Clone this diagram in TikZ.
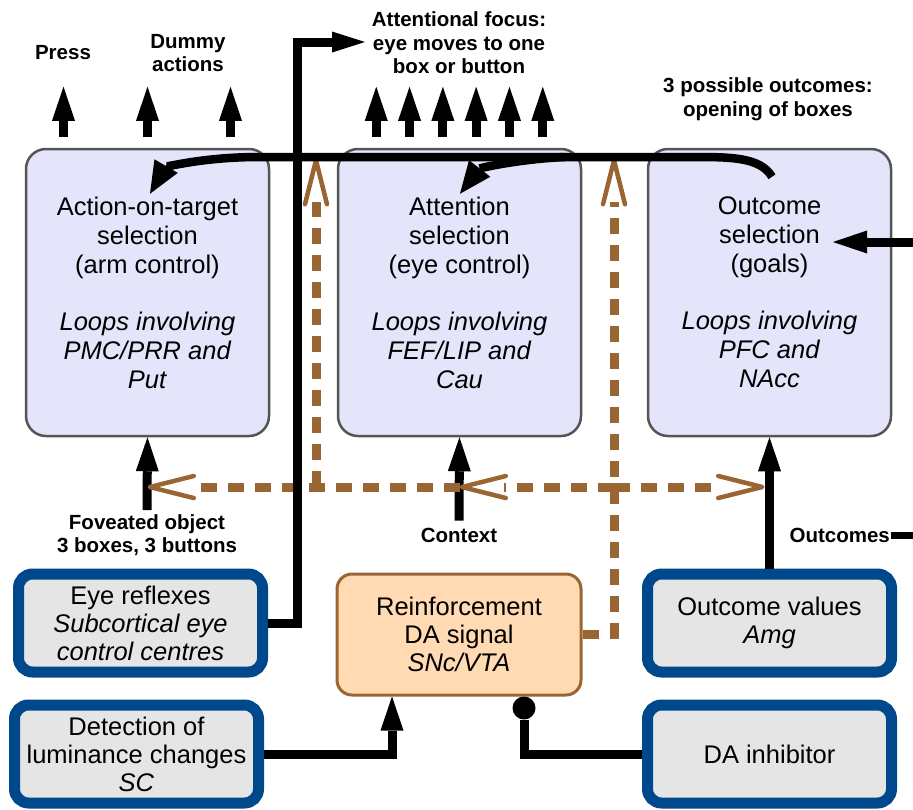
\documentclass[tikz,border=0pt]{standalone}
\usepackage{fontspec}
\setmainfont{Liberation Sans}
\usetikzlibrary{arrows.meta,positioning,calc}
\definecolor{lav}{RGB}{228,228,250}
\definecolor{frm}{RGB}{85,85,85}
\definecolor{brn}{RGB}{153,102,51}
\definecolor{peach}{RGB}{255,218,178}
\definecolor{navy}{RGB}{0,72,140}
\definecolor{lgray}{RGB}{229,229,229}
\tikzset{
  loopbox/.style={rectangle,rounded corners=20pt,draw=frm,line width=2.5pt,fill=lav,
    minimum width=243pt,minimum height=287pt,inner sep=0pt,align=center,
    font=\fontsize{25.5}{29}\selectfont},
  inbox/.style={rectangle,rounded corners=14pt,draw=navy,line width=11pt,fill=lgray,
    minimum width=244pt,minimum height=98pt,inner sep=0pt,align=center,
    font=\fontsize{25.5}{28}\selectfont},
  dabox/.style={rectangle,rounded corners=15pt,draw=brn,line width=3pt,fill=peach,
    minimum width=244pt,minimum height=121pt,inner sep=0pt,align=center,
    font=\fontsize{25.5}{28}\selectfont},
  lbl/.style={font=\bfseries\fontsize{20.5}{23.5}\selectfont,align=center,inner sep=1pt},
  fat/.style={-{Triangle[length=34pt,width=23pt,line width=0pt]},line width=9pt},
  curvarrow/.style={-{Triangle[length=32pt,width=27pt,line width=0pt]},line width=8.5pt},
  % open V head, the dashes stop behind it
  mod/.style={draw=brn,line width=9pt,dash pattern=on 16pt off 11pt,shorten >=44pt,
    postaction={draw=brn,line width=4.5pt,dash pattern=on 0pt off 15000pt,shorten >=0pt,
      -{Straight Barb[length=44pt,width=22pt,line width=4.5pt,round]}}},
}
\begin{document}
\begin{tikzpicture}[x=1pt,y=-1pt]
\useasboundingbox (0,0) rectangle (913,809);

% --- loop boxes ---
\node[loopbox] (actsel) at (147.5,292.5) {Action-on-target\\selection\\(arm control)\\[28pt]\textit{Loops involving}\\\textit{PMC/PRR and}\\\textit{Put}};
\node[loopbox] (attsel) at (459.5,292.5) {Attention\\selection\\(eye control)\\[28pt]\textit{Loops involving}\\\textit{FEF/LIP and}\\\textit{Cau}};
\node[loopbox] (outsel) at (769.5,292.5) {Outcome\\selection\\(goals)\\[28pt]\textit{Loops involving}\\\textit{PFC and}\\\textit{NAcc}};

% --- input boxes ---
\node[inbox] (eye) at (140.5,623) {Eye reflexes\\\textit{Subcortical eye}\\\textit{control centres}};
\node[inbox] (det) at (136.5,754) {Detection of\\luminance changes\\\textit{SC}};
\node[dabox] (da) at (459,634.5) {Reinforcement\\DA signal\\\textit{SNc/VTA}};
\node[inbox] (outv) at (769.5,623) {Outcome values\\\textit{Amg}};
\node[inbox] (dainh) at (769.5,754) {DA inhibitor};

% --- labels ---
\node[lbl] (press) at (63,53) {Press};
\node[lbl] (dummy) at (188,53) {Dummy\\actions};
\node[lbl] (focus) at (459,43) {Attentional focus:\\eye moves to one\\box or button};
\node[lbl] (poss) at (768,99) {3 possible outcomes:\\opening of boxes};
\node[lbl] (fov) at (147,535) {Foveated object\\3 boxes, 3 buttons};
\node[lbl] (ctx) at (459,535) {Context};
\node[lbl,anchor=east] (outc) at (891,535) {Outcomes};

\coordinate (jr) at (614,487);
\coordinate (jl) at (316,487);
\coordinate (jtopr) at (614,158);
\coordinate (jtopl) at (316,158);
\coordinate (rin) at (913,242);
\coordinate (rout) at (913,535);
\coordinate (focusgo) at (365,42);

% output arrows
\foreach \dx in {-84,0,83}
  \draw[fat] ([xshift=\dx pt]actsel.north) ++(0,-11) -- ++(0,-50);
\foreach \i in {0,...,5}
  \draw[fat] ([xshift={-83.25pt+33.3pt*\i}]attsel.north) ++(0,-11) -- ++(0,-50);

% input arrows
\draw[fat] ([yshift=3pt]fov.north) -- (actsel.south);
\draw[fat] ([yshift=6pt]ctx.north) -- (attsel.south);
\draw[fat] (outv.north) -- (outsel.south);
\draw[fat] (rin) -- +(-80,0);
\draw[line width=7pt] (outc.east) -- (rout);
\draw[fat] (det.east) -| ([xshift=-67pt]da.south);
\draw[line width=9pt,-{Circle[length=23pt,line width=0pt]}] (dainh.west) -| ([xshift=65pt]da.south);

% --- DA modulation (dashed) ---
\draw[mod] (da.east) -| (jtopr);
\draw[mod] (jl) -- (jtopl);
\draw[mod] (jr) -- (attsel.south |- jr);
\draw[mod] (attsel.south |- jr) -- (actsel.south |- jr);
\draw[mod] (jr) -- ($(outsel.south |- jr)+(-5,0)$);

% eye reflexes to focus
\draw[fat,-{Triangle[length=33pt,width=21pt,line width=0pt]}] (eye.east) -- ++(29,0) |- (focusgo);

% goals feeding back
\draw[curvarrow] ([xshift=2.5pt,yshift=-29pt]outsel.north) .. controls +(-12,-20) and +(40,0) .. (690,157)
  -- (260,157) .. controls (200,157) and (165,168) .. ([xshift=2.5pt,yshift=-46pt]actsel.north);
\draw[curvarrow] (565,157) .. controls (520,159) and (480,168) .. ([xshift=0.5pt,yshift=-46pt]attsel.north);
\end{tikzpicture}
\end{document}
